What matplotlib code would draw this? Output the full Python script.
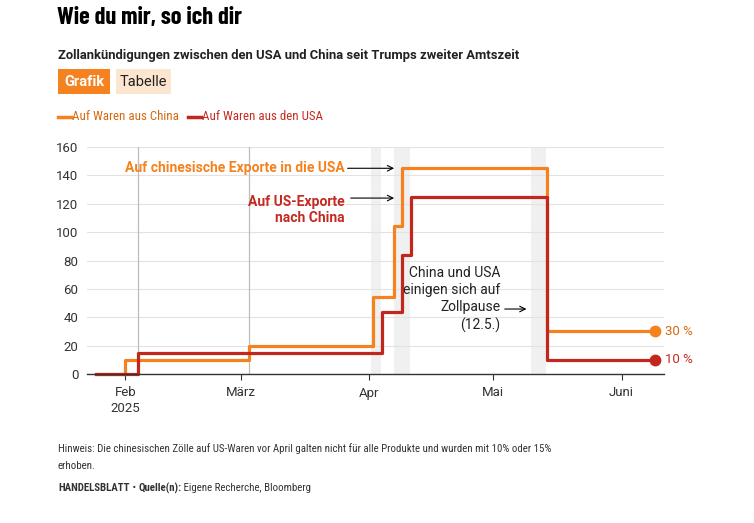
import matplotlib
matplotlib.use("Agg")
import matplotlib.pyplot as plt
from matplotlib import font_manager
from matplotlib.patches import Rectangle
from matplotlib.lines import Line2D
import pandas as pd

# --- data ---
china_dates = ["2025-01-25", "2025-02-01", "2025-03-03", "2025-04-02", "2025-04-07",
               "2025-04-09", "2025-05-14", "2025-06-09"]
china_vals = [0, 10, 20, 54, 104, 145, 30, 30]
usa_dates = ["2025-01-25", "2025-02-04", "2025-04-04", "2025-04-09", "2025-04-11",
             "2025-05-14", "2025-06-09"]
usa_vals = [0, 15, 44, 84, 125, 10, 10]
event_lines = ["2025-02-04", "2025-03-03"]
event_bands = [("2025-04-01 12:00", "2025-04-03 20:00"),
               ("2025-04-07", "2025-04-10 20:00"),
               ("2025-05-10", "2025-05-13 20:00")]
month_ticks = ["2025-02-01", "2025-03-01", "2025-04-01", "2025-05-01", "2025-06-01"]
month_labels = ["Feb\n2025", "März", "Apr", "Mai", "Juni"]

ORANGE = "#f5821f"
RED = "#c1271d"
ORANGE_TXT = "#d5670f"
RED_TXT = "#c52a22"
DARK = "#222222"

installed = {f.name for f in font_manager.fontManager.ttflist}


def pick(*names):
    for n in names:
        if n in installed:
            return n
    return "DejaVu Sans"


body = pick("Roboto", "DejaVu Sans")
narrow = pick("Roboto Condensed", "Barlow Semi Condensed", "Roboto")
title_font = pick("Barlow Condensed", "Roboto Condensed", "Roboto")
plt.rcParams["font.family"] = [body, "DejaVu Sans"]

W, H = 754, 523
fig = plt.figure(figsize=(W / 100, H / 100), dpi=100)
fig.patch.set_facecolor("white")


def fx(x):
    return x / W


def fy(y):
    return 1 - y / H


# --- header ---
fig.text(fx(57), fy(18), "Wie du mir, so ich dir", family=[title_font, "DejaVu Sans"],
         weight="bold", size=17.5, color="black", va="center", ha="left")
fig.text(fx(58), fy(55), "Zollankündigungen zwischen den USA und China seit Trumps zweiter Amtszeit",
         weight="bold", size=9.4, color=DARK, va="center", ha="left")
fig.patches.append(Rectangle((fx(58), fy(94)), fx(52), 25 / H, transform=fig.transFigure,
                             facecolor=ORANGE, edgecolor="none"))
fig.text(fx(84), fy(81.5), "Grafik", weight="bold", size=10.5, color="white", ha="center", va="center")
fig.patches.append(Rectangle((fx(116), fy(94)), fx(55), 25 / H, transform=fig.transFigure,
                             facecolor="#fde6cf", edgecolor="none"))
fig.text(fx(143.5), fy(81.5), "Tabelle", size=10.5, color=DARK, ha="center", va="center")

# legend
fig.lines.append(Line2D([fx(58), fx(71)], [fy(117), fy(117)], transform=fig.transFigure,
                        color=ORANGE, lw=2.5))
fig.text(fx(72.5), fy(117), "Auf Waren aus China", size=9.3, family=[narrow, "DejaVu Sans"],
         color=ORANGE_TXT, va="center")
fig.lines.append(Line2D([fx(188), fx(201)], [fy(117), fy(117)], transform=fig.transFigure,
                        color=RED, lw=2.5))
fig.text(fx(202.5), fy(117), "Auf Waren aus den USA", size=9.3, family=[narrow, "DejaVu Sans"],
         color=RED_TXT, va="center")

# --- chart ---
ax = fig.add_axes([fx(86.7), fy(374), fx(664 - 86.7), (374 - 147) / H])
cd = pd.to_datetime(china_dates)
ud = pd.to_datetime(usa_dates)

for a, b in event_bands:
    ax.axvspan(pd.Timestamp(a), pd.Timestamp(b), color="#f0f0f0", lw=0, zorder=0)
for d in event_lines:
    ax.axvline(pd.Timestamp(d), color="#bdbdbd", lw=0.9, zorder=1)

ax.step(cd, china_vals, where="post", color=ORANGE, lw=2.3, zorder=3, clip_on=False)
ax.step(ud, usa_vals, where="post", color=RED, lw=2.3, zorder=4, clip_on=False)
ax.plot(cd[-1], china_vals[-1], "o", color=ORANGE, ms=7.5, zorder=5, clip_on=False)
ax.plot(ud[-1], usa_vals[-1], "o", color=RED, ms=7.5, zorder=5, clip_on=False)
ax.text(cd[-1] + pd.Timedelta(days=2.6), china_vals[-1], f"{china_vals[-1]} %", color=ORANGE_TXT,
        size=9.5, va="center", ha="left")
ax.text(ud[-1] + pd.Timedelta(days=2.6), usa_vals[-1], f"{usa_vals[-1]} %", color=RED_TXT,
        size=9.5, va="center", ha="left")

ax.set_xlim(pd.Timestamp("2025-01-22 16:00"), pd.Timestamp("2025-06-11 06:00"))
ax.set_ylim(0, 160)
ax.set_yticks(range(0, 161, 20))
ax.set_xticks(pd.to_datetime(month_ticks))
ax.set_xticklabels(month_labels)
ax.grid(axis="y", color="#e3e3e3", lw=0.8, zorder=0)
ax.set_axisbelow(True)
for s in ["top", "right", "left"]:
    ax.spines[s].set_visible(False)
ax.spines["bottom"].set_color("#333333")
ax.spines["bottom"].set_linewidth(1)
ax.spines["bottom"].set_zorder(6)
ax.tick_params(axis="y", length=0, pad=6, labelsize=9.5, labelcolor="#333333")
ax.tick_params(axis="x", length=4, width=0.8, color="#333333", pad=5, labelsize=9.5,
               labelcolor="#333333")
for lbl in ax.get_xticklabels():
    lbl.set_linespacing(1.3)

# annotations
arrow = dict(arrowstyle="->", color="black", lw=0.8, shrinkA=0, shrinkB=0)
ax.text(pd.Timestamp("2025-03-26"), 145, "Auf chinesische Exporte in die USA", color=ORANGE,
        weight="bold", size=10, ha="right", va="center")
ax.annotate("", xy=(pd.Timestamp("2025-04-07"), 145), xytext=(pd.Timestamp("2025-03-26 18:00"), 145),
            arrowprops=arrow)
ax.text(pd.Timestamp("2025-03-26"), 126, "Auf US-Exporte\nnach China", color=RED_TXT,
        weight="bold", size=10, ha="right", va="top", multialignment="right", linespacing=1.2)
ax.annotate("", xy=(pd.Timestamp("2025-04-07"), 124), xytext=(pd.Timestamp("2025-03-27 12:00"), 124),
            arrowprops=arrow)
ax.text(pd.Timestamp("2025-05-02 15:00"), 52.5, "China und USA\neinigen sich auf\nZollpause\n(12.5.)",
        color=DARK, size=10, ha="right", va="center", multialignment="right", linespacing=1.27)
ax.annotate("", xy=(pd.Timestamp("2025-05-09"), 45.8), xytext=(pd.Timestamp("2025-05-03 18:00"), 45.8),
            arrowprops=arrow)

# --- footer ---
foot = [narrow, "DejaVu Sans"]
fig.text(fx(58), fy(449), "Hinweis: Die chinesischen Zölle auf US-Waren vor April galten nicht für alle "
         "Produkte und wurden mit 10% oder 15%", size=7.8, family=foot, color="#333333", va="center")
fig.text(fx(58), fy(466), "erhoben.", size=7.8, family=foot, color="#333333", va="center")

renderer = fig.canvas.get_renderer()
parts = [("HANDELSBLATT", "bold"), (" • ", "normal"), ("Quelle(n):", "bold"),
         (" Eigene Recherche, Bloomberg", "normal")]
x = 58
for txt, wt in parts:
    t = fig.text(fx(x), fy(488), txt, size=7.8, weight=wt, family=foot, color="#333333", va="center")
    x += t.get_window_extent(renderer).width

fig.savefig("out.png", dpi=100)
